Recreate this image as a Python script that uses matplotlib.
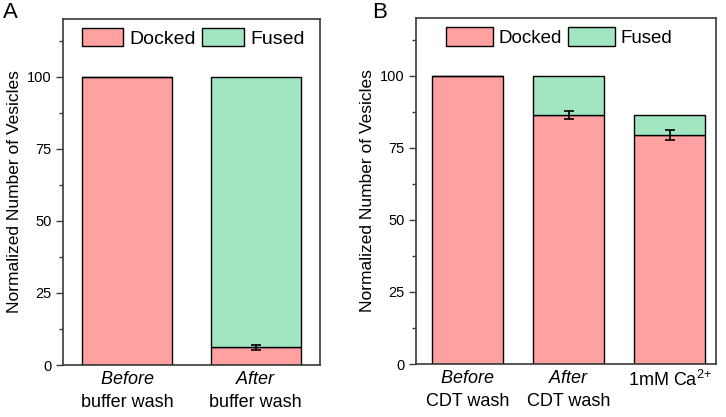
import numpy as np
import matplotlib
matplotlib.use('Agg')
import matplotlib.pyplot as plt
from matplotlib.ticker import MultipleLocator

plt.rcParams['font.family'] = ['Liberation Sans', 'DejaVu Sans']
plt.rcParams['mathtext.fontset'] = 'custom'
plt.rcParams['mathtext.rm'] = 'Liberation Sans'
plt.rcParams['mathtext.it'] = 'Liberation Sans:italic'

# panel A data
labels_a = ['$\\it{Before}$\nbuffer wash', '$\\it{After}$\nbuffer wash']
docked_a = [100.0, 6.2]
fused_a = [0.0, 93.6]
err_a = [0.0, 0.9]

# panel B data
labels_b = ['$\\it{Before}$\nCDT wash', '$\\it{After}$\nCDT wash', '1mM Ca$^{2{+}}$']
docked_b = [100.0, 86.3, 79.4]
fused_b = [0.0, 13.7, 7.0]
err_b = [0.0, 1.4, 1.8]

PINK = '#FFA1A1'
GREEN = '#A1E6C1'
SPINE = '#3a3a3a'


def draw_panel(ax, labels, docked, fused, err, xlim, leg_x, leg_fs, hl, hh):
    x = np.arange(len(labels))
    ax.bar(x, docked, 0.7, color=PINK, edgecolor='black', linewidth=1.0,
           label='Docked', zorder=2)
    ax.bar(x, fused, 0.7, bottom=docked, color=GREEN, edgecolor='black',
           linewidth=1.0, label='Fused', zorder=2)
    for xi, d, e in zip(x, docked, err):
        if e > 0:
            ax.errorbar(xi, d, yerr=e, fmt='none', ecolor='black',
                        elinewidth=1.2, capsize=3.5, capthick=1.2, zorder=3)
    ax.set_xlim(*xlim)
    ax.set_ylim(0, 120)
    ax.set_xticks(x)
    ax.set_xticklabels(labels, fontsize=13, linespacing=1.5)
    ax.tick_params(axis='x', length=0, pad=4)
    ax.yaxis.set_major_locator(MultipleLocator(25))
    ax.yaxis.set_minor_locator(MultipleLocator(12.5))
    ax.set_yticks([0, 25, 50, 75, 100])
    ax.tick_params(axis='y', which='major', length=5, width=1, labelsize=10.5,
                   color=SPINE, direction='out', pad=3)
    ax.tick_params(axis='y', which='minor', length=3, width=1, color=SPINE,
                   direction='out')
    for s in ax.spines.values():
        s.set_color(SPINE)
        s.set_linewidth(1.2)
    ax.set_ylabel('Normalized Number of Vesicles', fontsize=12.5, labelpad=4)
    ax.legend(loc='upper left', bbox_to_anchor=(leg_x, 0.975), ncol=2,
              frameon=False, fontsize=leg_fs, handlelength=hl, handleheight=hh,
              handletextpad=0.3, columnspacing=0.35, borderpad=0,
              borderaxespad=0)


fig = plt.figure(figsize=(7.26, 4.17), dpi=100)
ax_a = fig.add_axes([0.0868, 0.1247, 0.354, 0.8297])
ax_b = fig.add_axes([0.573, 0.127, 0.4132, 0.8298])

draw_panel(ax_a, labels_a, docked_a, fused_a, err_a, (-0.5, 1.5), 0.072, 14, 2.15, 1.1)
draw_panel(ax_b, labels_b, docked_b, fused_b, err_b, (-0.51, 2.46), 0.1, 13.5, 2.5, 1.25)

fig.text(0.004, 0.995, 'A', fontsize=16, va='top', ha='left')
fig.text(0.512, 0.995, 'B', fontsize=16, va='top', ha='left')

fig.savefig('out.png', dpi=100)
